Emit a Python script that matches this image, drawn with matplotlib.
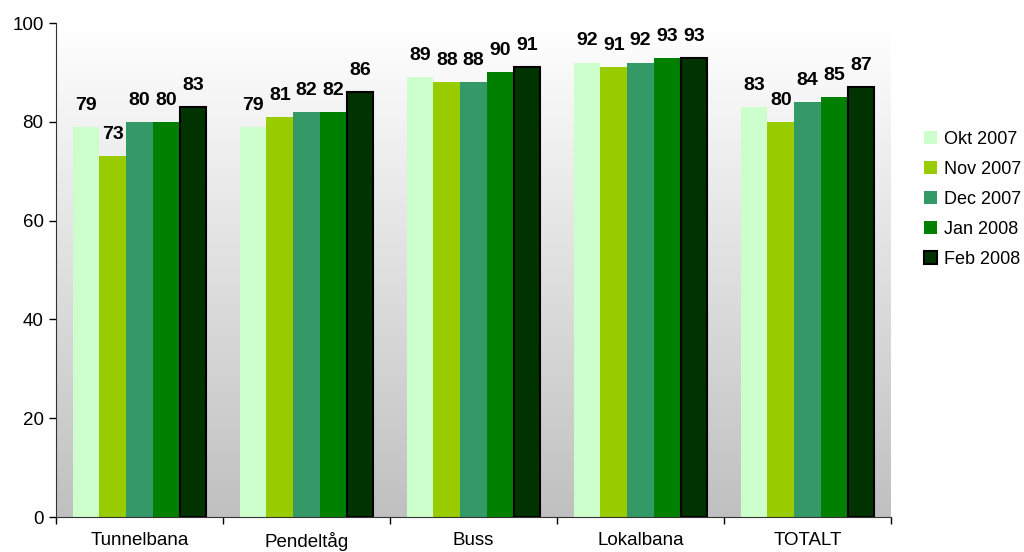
import numpy as np
import matplotlib
matplotlib.use("Agg")
import matplotlib.pyplot as plt
from matplotlib.patches import Patch

categories = ["Tunnelbana", "Pendeltåg", "Buss", "Lokalbana", "TOTALT"]
series_names = ["Okt 2007", "Nov 2007", "Dec 2007", "Jan 2008", "Feb 2008"]
okt_2007 = [79, 79, 89, 92, 83]
nov_2007 = [73, 81, 88, 91, 80]
dec_2007 = [80, 82, 88, 92, 84]
jan_2008 = [80, 82, 90, 93, 85]
feb_2008 = [83, 86, 91, 93, 87]
yticks = [0, 20, 40, 60, 80, 100]

series = [okt_2007, nov_2007, dec_2007, jan_2008, feb_2008]
colors = ["#CCFFCC", "#99CC00", "#339966", "#008000", "#003300"]
edges = [None, None, None, None, "black"]

plt.rcParams["font.family"] = ["Liberation Sans", "DejaVu Sans"]
FS = 13.5

fig = plt.figure(figsize=(10.24, 5.52), dpi=100)
ax = fig.add_axes([56 / 1024, 1 - 517 / 552, (891 - 56) / 1024, (517 - 23) / 552])

n = len(categories)
x = np.arange(n)
width = 0.16

# vertical grey gradient behind the bars
grad = np.linspace(0, 1, 256).reshape(-1, 1)
ax.imshow(grad, extent=[-0.5, n - 0.5, 0, 100], aspect="auto",
          cmap=matplotlib.colors.LinearSegmentedColormap.from_list(
              "bg", ["#c0c0c0", "#ffffff"]),
          origin="lower", zorder=0)

for i, (vals, name, c, ec) in enumerate(zip(series, series_names, colors, edges)):
    pos = x + (i - 2) * width
    ax.bar(pos, vals, width=width, color=c, label=name, zorder=2,
           edgecolor=ec if ec else c, linewidth=1.5 if ec else 0)
    for xp, v in zip(pos, vals):
        ax.annotate(f"{v}", (xp, v), xytext=(0, 15.5), textcoords="offset points",
                    ha="center", va="center", fontsize=14, fontweight="bold",
                    zorder=3)

ax.set_xlim(-0.5, n - 0.5)
ax.set_ylim(0, 100)
ax.set_yticks(yticks)
ax.tick_params(axis="y", labelsize=FS, length=5, width=1, direction="out", pad=4)

ax.set_xticks(np.arange(n + 1) - 0.5)
ax.set_xticklabels([])
ax.set_xticks(x, minor=True)
ax.set_xticklabels(categories, minor=True, fontsize=FS)
ax.tick_params(axis="x", which="major", length=5, width=1, direction="out")
ax.tick_params(axis="x", which="minor", length=0, pad=11)

for s in ["top", "right"]:
    ax.spines[s].set_visible(False)
for s in ["left", "bottom"]:
    ax.spines[s].set_color("#333333")

handles = [Patch(facecolor=c, edgecolor=(e if e else c), linewidth=1.5 if e else 0)
           for c, e in zip(colors, edges)]
fig.legend(handles, series_names, loc="center left", bbox_to_anchor=(0.902, 0.639),
           frameon=False, fontsize=13, handlelength=0.75, handleheight=0.75,
           handletextpad=0.35, labelspacing=0.72, borderpad=0, borderaxespad=0)

fig.savefig("out.png", dpi=100)
